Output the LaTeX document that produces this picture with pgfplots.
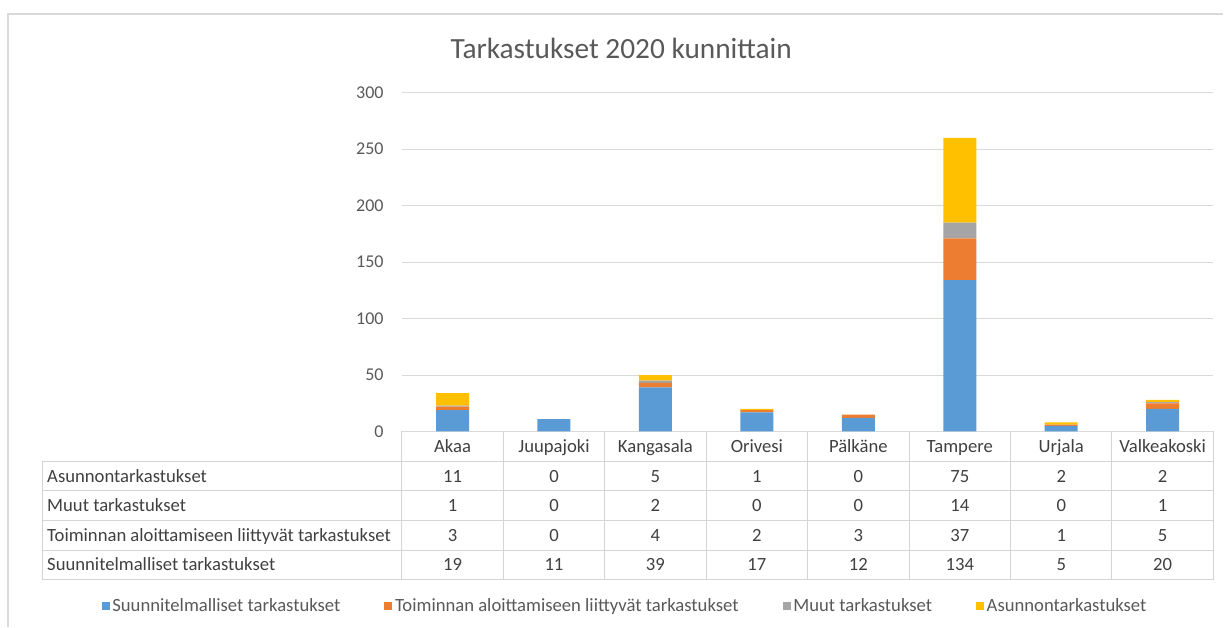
\documentclass[border=0pt]{standalone}
\usepackage{fontspec}
\setmainfont{Carlito}
\usepackage{pgfplots}
\usepackage{pgfplotstable}
\pgfplotsset{compat=1.18}
\definecolor{cS}{HTML}{5B9BD5}
\definecolor{cT}{HTML}{ED7D31}
\definecolor{cM}{HTML}{A5A5A5}
\definecolor{cA}{HTML}{FFC000}
\definecolor{txt}{HTML}{404040}
\definecolor{tick}{HTML}{595959}
\definecolor{gridc}{HTML}{D9D9D9}
\definecolor{tabc}{HTML}{D4D4D4}
\newcommand{\tfont}{\fontsize{14}{16}\selectfont}

\pgfplotstableread{
x S T M A
0 19 3 1 11
1 11 0 0 0
2 39 4 2 5
3 17 2 0 1
4 12 3 0 0
5 134 37 14 75
6 5 1 0 2
7 20 5 1 2
}\data

\begin{document}
\begin{tikzpicture}
\begin{scope}[x=0.75pt,y=-0.75pt]
  \path (0,0) rectangle (1224,627);
  \draw[gridc, line width=0.9pt] (8,627) -- (8,14) -- (1224,14);
  \node[text=tick, font=\fontsize{22}{24}\selectfont] at (621.5,48) {Tarkastukset 2020 kunnittain};
  % table grid
  \foreach \yy in {461.7,491,521,550.3,580} {\draw[tabc, line width=0.75pt] (43,\yy) -- (1214,\yy);}
  \draw[tabc, line width=0.75pt] (402,431.7) -- (1214,431.7);
  \draw[tabc, line width=0.75pt] (43,461.7) -- (43,580);
  \foreach \i in {0,...,8} {\draw[tabc, line width=0.75pt] ({402+\i*101.5},431.7) -- ({402+\i*101.5},580);}
  % row labels
  \node[anchor=base west, text=txt, font=\tfont, inner sep=0pt] at (47,482.3) {Asunnontarkastukset};
  \node[anchor=base west, text=txt, font=\tfont, inner sep=0pt] at (47,512) {Muut tarkastukset};
  \node[anchor=base west, text=txt, font=\tfont, inner sep=0pt] at (47,541.6) {Toiminnan aloittamiseen liittyvät tarkastukset};
  \node[anchor=base west, text=txt, font=\tfont, inner sep=0pt] at (47,571.1) {Suunnitelmalliset tarkastukset};
  % values
  \foreach \i in {0,...,7} {
    \pgfplotstablegetelem{\i}{A}\of\data
    \node[anchor=base, text=txt, font=\tfont, inner sep=0pt] at ({402+(\i+0.5)*101.5},482.3) {\pgfplotsretval};
    \pgfplotstablegetelem{\i}{M}\of\data
    \node[anchor=base, text=txt, font=\tfont, inner sep=0pt] at ({402+(\i+0.5)*101.5},512) {\pgfplotsretval};
    \pgfplotstablegetelem{\i}{T}\of\data
    \node[anchor=base, text=txt, font=\tfont, inner sep=0pt] at ({402+(\i+0.5)*101.5},541.6) {\pgfplotsretval};
    \pgfplotstablegetelem{\i}{S}\of\data
    \node[anchor=base, text=txt, font=\tfont, inner sep=0pt] at ({402+(\i+0.5)*101.5},571.1) {\pgfplotsretval};
  }
\end{scope}
\begin{axis}[
  at={({402*0.75pt},{-431.7*0.75pt})}, anchor=south west,
  width=609pt, height=254.25pt, scale only axis,
  xmin=-0.5, xmax=7.5, ymin=0, ymax=300,
  ybar stacked, bar width=24.75pt,
  axis line style={draw=none}, tick style={draw=none},
  ytick={0,50,...,300}, ymajorgrids,
  grid style={color=gridc, line width=0.75pt},
  xtick={0,...,7},
  xticklabels={Akaa,Juupajoki,Kangasala,Orivesi,Pälkäne,Tampere,Urjala,Valkeakoski},
  xticklabel style={font=\tfont, text=txt, anchor=base, inner sep=0pt, yshift=-15.7pt},
  yticklabel style={font=\fontsize{13.5}{16}\selectfont, text=tick, anchor=east, inner sep=0pt, xshift=-13.5pt},
  /pgf/number format/assume math mode=true,
  legend columns=4,
  legend style={draw=none, at={(0.2755,-0.514)}, anchor=center, font=\tfont, text=tick,
    /tikz/every even column/.append style={column sep=31pt}},
  legend image code/.code={\fill[#1] (0pt,-3pt) rectangle (6pt,3pt);},
]
\addplot[fill=cS, draw=none] table[x=x,y=S]{\data};
\addplot[fill=cT, draw=none] table[x=x,y=T]{\data};
\addplot[fill=cM, draw=none] table[x=x,y=M]{\data};
\addplot[fill=cA, draw=none] table[x=x,y=A]{\data};
\legend{Suunnitelmalliset tarkastukset, Toiminnan aloittamiseen liittyvät tarkastukset, Muut tarkastukset, Asunnontarkastukset}
\end{axis}
\end{tikzpicture}
\end{document}
